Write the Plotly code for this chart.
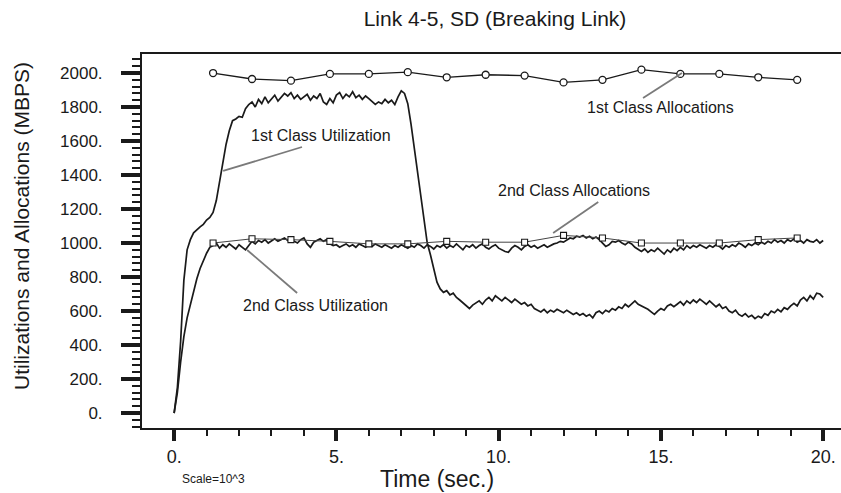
import plotly.graph_objects as go

# ---------------- data ----------------
time_util = [round(i * 0.1, 1) for i in range(201)]

util_1st = [
    0, 150, 420, 780, 960, 1020, 1060, 1080, 1095, 1110,
    1135, 1150, 1180, 1250, 1360, 1470, 1580, 1660, 1720, 1730,
    1745, 1740, 1790, 1815, 1830, 1800, 1845, 1820, 1860, 1825,
    1850, 1870, 1835, 1855, 1880, 1865, 1885, 1850, 1870, 1845,
    1860, 1875, 1840, 1865, 1850, 1880, 1830, 1815, 1850, 1825,
    1870, 1885, 1850, 1875, 1860, 1890, 1855, 1870, 1845, 1865,
    1850, 1835, 1815, 1830, 1820, 1845, 1825, 1840, 1815, 1860,
    1895, 1880, 1820, 1700, 1560, 1400, 1260, 1110, 1000, 930,
    850, 770, 730, 710, 720, 695, 705, 680, 665, 650,
    630, 615, 635, 650, 660, 640, 665, 680, 660, 690,
    675, 660, 680, 665, 650, 670, 655, 640, 650, 630,
    640, 615, 605, 595, 610, 590, 605, 595, 610, 600,
    590, 605, 595, 580, 590, 575, 585, 570, 580, 560,
    590, 600, 585, 605, 595, 615, 605, 625, 615, 640,
    625, 645, 660, 640, 630, 620, 610, 595, 580, 600,
    615, 605, 630, 640, 625, 640, 655, 635, 660, 645,
    665, 650, 670, 655, 640, 660, 645, 625, 640, 615,
    625, 600, 590, 605, 580, 570, 585, 565, 575, 555,
    570, 560, 585, 575, 600, 590, 610, 595, 620, 610,
    630, 645, 630, 665, 680, 660, 690, 670, 705, 700,
    680,
]

util_2nd = [
    0, 120, 300, 450, 560, 640, 720, 790, 850, 900,
    940, 975, 985, 1000, 970, 990, 975, 995, 980, 965,
    990, 975, 960, 985, 1010, 995, 1015, 1005, 1020, 1000,
    1015, 1025, 1010, 1020, 1030, 1015, 1025, 1010, 1000, 1020,
    1030, 995, 975, 1005, 1015, 1025, 1010, 1020, 995, 985,
    990, 975, 985, 995, 980, 990, 975, 995, 985, 975,
    990, 980, 995, 985, 975, 990, 980, 970, 985, 975,
    990, 980, 970, 985, 975, 995, 985, 970, 990, 980,
    965, 985, 975, 990, 970, 985, 975, 995, 980, 960,
    985, 975, 990, 970, 985, 995, 975, 965, 980, 990,
    970, 960, 950, 945, 970, 985, 975, 960, 980, 990,
    975, 985, 970, 980, 990, 975, 985, 995, 1000, 1010,
    1005, 1020, 1030, 1025, 1040, 1035, 1045, 1030, 1040, 1025,
    1035, 1020, 1000, 980, 990, 1010, 1005, 1015, 1000, 990,
    1005, 995, 975, 960, 950, 965, 945, 960, 950, 970,
    955, 935, 960, 945, 970, 955, 975, 960, 985, 970,
    985, 975, 990, 980, 970, 985, 975, 990, 980, 965,
    985, 975, 990, 980, 1000, 990, 975, 995, 985, 1000,
    990, 1005, 995, 1010, 1000, 1020, 1005, 1015, 1000, 1020,
    1010, 1025, 1005, 1015, 1000, 1020, 1010, 1005, 1020, 1000,
    1015,
]

time_alloc = [1.2, 2.4, 3.6, 4.8, 6.0, 7.2, 8.4, 9.6, 10.8, 12.0,
              13.2, 14.4, 15.6, 16.8, 18.0, 19.2]
alloc_1st = [2000, 1965, 1955, 1995, 1995, 2005, 1975, 1990, 1985, 1945,
             1960, 2020, 1995, 1995, 1975, 1960]
alloc_2nd = [1000, 1025, 1020, 1010, 995, 995, 1010, 1005, 1005, 1045,
             1030, 1000, 1000, 1000, 1020, 1030]

y_tick_vals = [0, 200, 400, 600, 800, 1000, 1200, 1400, 1600, 1800, 2000]
y_tick_text = ["0.", "200.", "400.", "600.", "800.", "1000.", "1200.",
               "1400.", "1600.", "1800.", "2000."]
x_tick_vals = [0, 5, 10, 15, 20]
x_tick_text = ["0.", "5.", "10.", "15.", "20."]

# annotation labels: (text, x, y)
labels = [
    ("1st Class Utilization", 4.53, 1635),
    ("1st Class Allocations", 14.98, 1800),
    ("2nd Class Allocations", 12.33, 1312),
    ("2nd Class Utilization", 4.35, 635),
]
# leader lines: (x0, y0, x1, y1)
leaders = [
    (3.94, 1565, 1.51, 1424),
    (14.45, 1853, 15.65, 2000),
    (13.07, 1241, 11.68, 1059),
    (3.79, 706, 2.25, 959),
]

FONT = "Arial, 'Liberation Sans', sans-serif"
INK = "#1a1a1a"

W, H = 841, 493
L, R, T, B = 142, 0, 54, 65
PW, PH = W - L - R, H - T - B


def px_x(px):
    return (px - L) / PW


def px_y(py):
    return (H - B - py) / PH


fig = go.Figure()
fig.add_trace(go.Scatter(x=time_util, y=util_1st, mode="lines",
                         line=dict(color=INK, width=1.7), name="1st Class Utilization"))
fig.add_trace(go.Scatter(x=time_util, y=util_2nd, mode="lines",
                         line=dict(color=INK, width=1.7), name="2nd Class Utilization"))
fig.add_trace(go.Scatter(x=time_alloc, y=alloc_1st, mode="lines+markers",
                         line=dict(color=INK, width=1.3),
                         marker=dict(symbol="circle", size=7, color="white",
                                     line=dict(color=INK, width=1.3)),
                         name="1st Class Allocations"))
fig.add_trace(go.Scatter(x=time_alloc, y=alloc_2nd, mode="lines+markers",
                         line=dict(color="#444", width=1),
                         marker=dict(symbol="square", size=6, color="white",
                                     line=dict(color=INK, width=1.1)),
                         name="2nd Class Allocations"))

for (x0, y0, x1, y1) in leaders:
    fig.add_shape(type="line", x0=x0, y0=y0, x1=x1, y1=y1, xref="x", yref="y",
                  line=dict(color="#7a7a7a", width=1.8))

for (txt, x, y) in labels:
    fig.add_annotation(text=txt, x=x, y=y, xref="x", yref="y", showarrow=False,
                       font=dict(family=FONT, size=16, color=INK))

fig.add_annotation(text="Scale=10^3", x=px_x(213), y=px_y(479), xref="paper", yref="paper",
                   xanchor="center", yanchor="middle", showarrow=False,
                   font=dict(family=FONT, size=12, color=INK))
fig.add_annotation(text="Time (sec.)", x=px_x(437), y=px_y(479), xref="paper", yref="paper",
                   xanchor="center", yanchor="middle", showarrow=False,
                   font=dict(family=FONT, size=23, color=INK))
fig.add_annotation(text="Utilizations and Allocations (MBPS)", textangle=-90,
                   x=px_x(22), y=px_y(226), xref="paper", yref="paper",
                   xanchor="center", yanchor="middle", showarrow=False,
                   font=dict(family=FONT, size=21, color=INK))

fig.update_layout(
    width=W, height=H,
    margin=dict(l=L, r=R, t=T, b=B, autoexpand=False),
    paper_bgcolor="white", plot_bgcolor="white",
    showlegend=False,
    font=dict(family=FONT, color=INK),
    title=dict(text="Link 4-5, SD (Breaking Link)", x=495 / W, xanchor="center",
               y=1 - 19 / H, yanchor="middle",
               font=dict(family=FONT, size=21, color=INK)),
)

fig.update_xaxes(
    range=[-0.99, 20.55], automargin=False,
    showgrid=False, zeroline=False,
    showline=True, linecolor=INK, linewidth=2, mirror=True,
    tickmode="array", tickvals=x_tick_vals, ticktext=x_tick_text,
    ticks="outside", ticklen=11, tickwidth=4, tickcolor=INK,
    tickfont=dict(family=FONT, size=18, color=INK),
    minor=dict(dtick=1, tick0=0, ticks="outside", ticklen=6, tickwidth=1.5,
               tickcolor=INK, showgrid=False),
)
fig.update_yaxes(
    range=[-88, 2112], automargin=False,
    showgrid=False, zeroline=False,
    showline=True, linecolor=INK, linewidth=2, mirror=False,
    tickmode="array", tickvals=y_tick_vals, ticktext=y_tick_text,
    ticks="outside", ticklen=19, tickwidth=4, tickcolor=INK,
    tickfont=dict(family=FONT, size=17, color=INK),
    ticklabelstandoff=15,
    minor=dict(dtick=40, tick0=0, ticks="outside", ticklen=8, tickwidth=1.5,
               tickcolor=INK, showgrid=False),
)

fig.write_html(
    "out.html",
    config={"displayModeBar": False},
    post_script="document.body.style.margin='0';document.body.style.padding='0';"
                "document.body.style.overflow='hidden';",
)
